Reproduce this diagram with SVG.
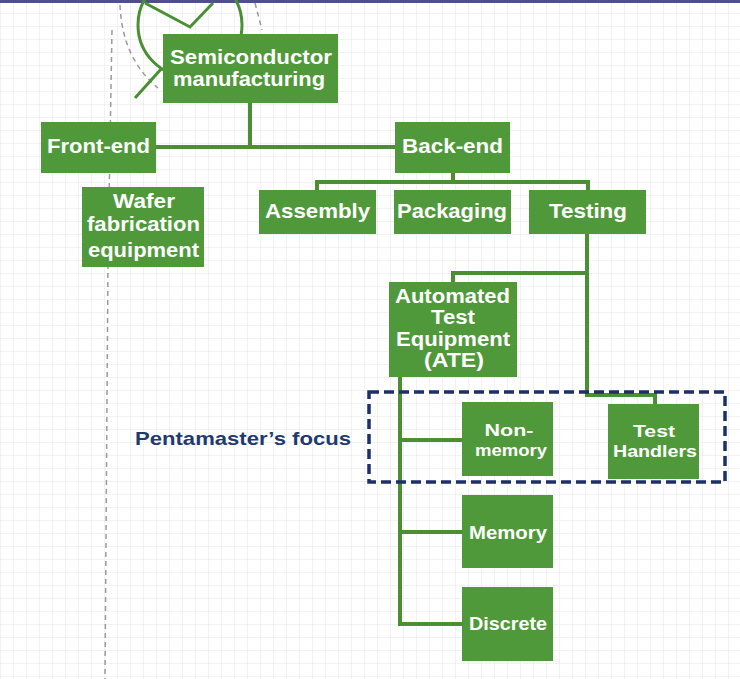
<svg xmlns="http://www.w3.org/2000/svg" width="740" height="679" viewBox="0 0 740 679">
<defs>
<pattern id="grid" width="13" height="13" patternUnits="userSpaceOnUse">
<path d="M13 0 L0 0 L0 13" fill="none" stroke="#e6e6e6" stroke-width="1"/>
</pattern>
<style>
.box{fill:#50993a;}
.t{font-family:"Liberation Sans",Arial,sans-serif;font-weight:bold;fill:#ffffff;text-anchor:middle;}
.big{font-size:21px;}
.mid{font-size:20px;}
.sm{font-size:18px;}
.xs{font-size:17px;}
.con{fill:none;stroke:#4b8f34;stroke-width:4;stroke-linejoin:miter;}
.deco{fill:none;stroke:#4b8f34;stroke-width:3;}
.gdash{fill:none;stroke:#9a9a9a;stroke-width:1.5;stroke-dasharray:5 4;}
</style>
</defs>
<rect x="0" y="0" width="740" height="679" fill="#ffffff"/>
<rect x="0" y="0" width="740" height="679" fill="url(#grid)"/>
<rect x="0" y="0" width="740" height="3" fill="#4f4f8c"/>

<g id="decoration">
<path class="gdash" d="M112 30 L108 260 L105 679"/>
<path class="gdash" d="M120 5 Q122 58 158 88"/>
<path class="gdash" d="M255 3 L262 30"/>
<circle class="deco" cx="190" cy="25" r="52"/>
<polyline class="deco" points="145,3 190,27 213,3"/>
<line class="deco" x1="135" y1="98" x2="162" y2="68"/>
</g>

<g id="connectors">
<path class="con" d="M250 103 V147"/>
<path class="con" d="M156 147 H395"/>
<path class="con" d="M453 173 V182"/>
<path class="con" d="M317 190 V182 H588 V190"/>
<path class="con" d="M587 234 V395 H655 V404"/>
<path class="con" d="M587 273 H453 V282"/>
<path class="con" d="M400 377 V624 H462"/>
<path class="con" d="M400 440 H462"/>
<path class="con" d="M400 532 H462"/>
</g>

<g id="focus">
<rect x="369" y="392" width="356" height="90" fill="none" stroke="#1c2f6b" stroke-width="3.5" stroke-dasharray="10 5"/>
<text x="243" y="445" font-family="Liberation Sans, Arial, sans-serif" font-weight="bold" font-size="19" fill="#1f3a70" text-anchor="middle" textLength="216" lengthAdjust="spacingAndGlyphs">Pentamaster’s focus</text>
</g>

<g id="semiconductor">
<rect class="box" x="163" y="34" width="175" height="69"/>
<text class="t big" x="251" y="64" textLength="162" lengthAdjust="spacingAndGlyphs">Semiconductor</text>
<text class="t big" x="249" y="86" textLength="152" lengthAdjust="spacingAndGlyphs">manufacturing</text>
</g>

<g id="frontend">
<rect class="box" x="41" y="122" width="115" height="51"/>
<text class="t big" x="98.5" y="153" textLength="103" lengthAdjust="spacingAndGlyphs">Front-end</text>
</g>

<g id="backend">
<rect class="box" x="395" y="122" width="115" height="51"/>
<text class="t big" x="452.5" y="153" textLength="101" lengthAdjust="spacingAndGlyphs">Back-end</text>
</g>

<g id="wafer">
<rect class="box" x="82" y="187" width="122" height="80"/>
<text class="t big" x="144" y="208" textLength="62" lengthAdjust="spacingAndGlyphs">Wafer</text>
<text class="t big" x="143.5" y="231" textLength="113" lengthAdjust="spacingAndGlyphs">fabrication</text>
<text class="t big" x="143.5" y="257" textLength="111" lengthAdjust="spacingAndGlyphs">equipment</text>
</g>

<g id="assembly">
<rect class="box" x="259" y="190" width="117" height="44"/>
<text class="t big" x="317.5" y="218" textLength="105" lengthAdjust="spacingAndGlyphs">Assembly</text>
</g>

<g id="packaging">
<rect class="box" x="394" y="190" width="117" height="44"/>
<text class="t big" x="452" y="218" textLength="110" lengthAdjust="spacingAndGlyphs">Packaging</text>
</g>

<g id="testing">
<rect class="box" x="529" y="190" width="117" height="44"/>
<text class="t big" x="588" y="218" textLength="78" lengthAdjust="spacingAndGlyphs">Testing</text>
</g>

<g id="ate">
<rect class="box" x="389" y="282" width="128" height="95"/>
<text class="t mid" x="452.5" y="303" textLength="115" lengthAdjust="spacingAndGlyphs">Automated</text>
<text class="t mid" x="453" y="324" textLength="44" lengthAdjust="spacingAndGlyphs">Test</text>
<text class="t mid" x="453" y="346" textLength="114" lengthAdjust="spacingAndGlyphs">Equipment</text>
<text class="t mid" x="454" y="367" textLength="60" lengthAdjust="spacingAndGlyphs">(ATE)</text>
</g>

<g id="nonmemory">
<rect class="box" x="462" y="402" width="91" height="74"/>
<text class="t xs" x="509" y="436" textLength="49" lengthAdjust="spacingAndGlyphs">Non-</text>
<text class="t xs" x="511" y="456" textLength="72" lengthAdjust="spacingAndGlyphs">memory</text>
</g>

<g id="testhandlers">
<rect class="box" x="608" y="404" width="91" height="75"/>
<text class="t xs" x="654" y="437" textLength="42" lengthAdjust="spacingAndGlyphs">Test</text>
<text class="t xs" x="655" y="457" textLength="84" lengthAdjust="spacingAndGlyphs">Handlers</text>
</g>

<g id="memory">
<rect class="box" x="462" y="495" width="91" height="73"/>
<text class="t sm" x="508" y="539" textLength="78" lengthAdjust="spacingAndGlyphs">Memory</text>
</g>

<g id="discrete">
<rect class="box" x="462" y="587" width="91" height="74"/>
<text class="t sm" x="508" y="630" textLength="78" lengthAdjust="spacingAndGlyphs">Discrete</text>
</g>
</svg>
